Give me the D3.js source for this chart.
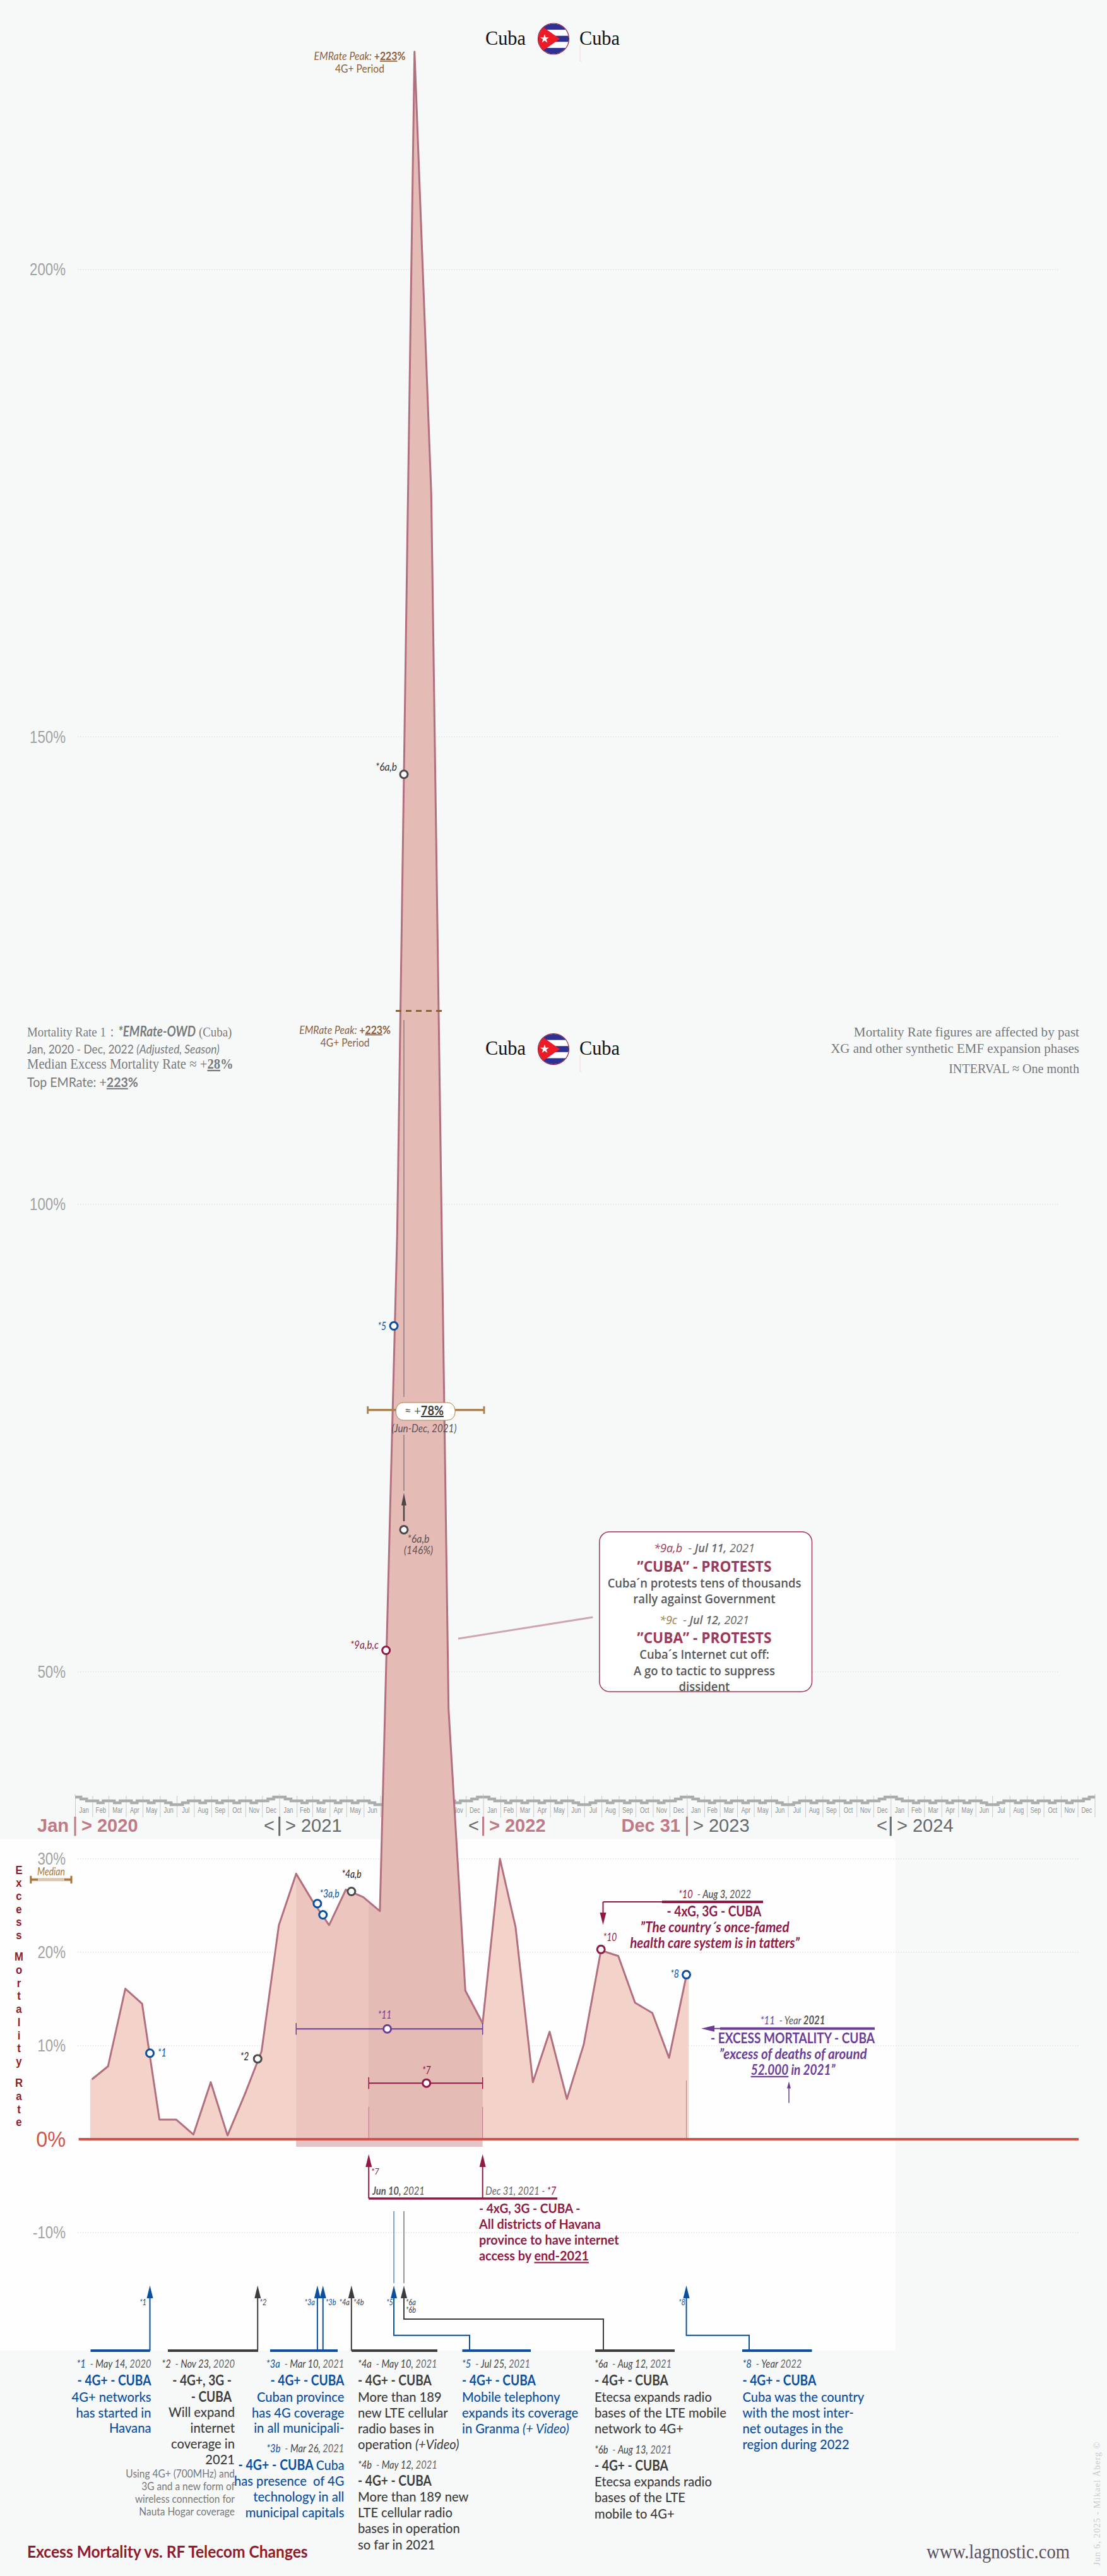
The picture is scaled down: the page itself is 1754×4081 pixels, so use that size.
<!DOCTYPE html>
<html>
<head>
<meta charset="utf-8">
<script src="https://cdn.jsdelivr.net/npm/d3@7"></script>
<style>
  html, body { margin: 0; padding: 0; background: #f7f9f9; }
  svg { display: block; }
  text { white-space: pre; }
</style>
</head>
<body>
<svg id="chart"></svg>
<script>
// excess mortality per month, Jan 2020 - Dec 2022
const monthEnds = ["2020-01-31","2020-02-29","2020-03-31","2020-04-30","2020-05-31","2020-06-30","2020-07-31","2020-08-31","2020-09-30","2020-10-31","2020-11-30","2020-12-31",
                   "2021-01-31","2021-02-28","2021-03-31","2021-04-30","2021-05-31","2021-06-30","2021-07-31","2021-08-31","2021-09-30","2021-10-31","2021-11-30","2021-12-31",
                   "2022-01-31","2022-02-28","2022-03-31","2022-04-30","2022-05-31","2022-06-30","2022-07-31","2022-08-31","2022-09-30","2022-10-31","2022-11-30","2022-12-31"];
const excess = [6.4, 7.8, 16.1, 14.5, 2.1, 2.1, 0.5, 6.1, 0.4, 4.8, 9.4, 22.9,
                28.4, 25.6, 22.9, 26.7, 25.9, 24.4, 97, 223.3, 176, 46, 15.9, 12.4,
                30.0, 22.7, 6.1, 11.5, 4.3, 10.1, 20.2, 19.6, 14.6, 13.5, 8.7, 17.5];

const yTicks = [-10, 0, 10, 20, 30, 50, 100, 150, 200];
const yearLabels = ["2020", "2021", "2022", "2023", "2024"];

// event markers on the curve
const markerDates = ["2020-05-14","2020-11-23","2021-03-10","2021-03-20","2021-05-10","2021-07-25","2021-08-12","2021-08-12","2021-07-11","2022-07-31","2022-12-31"];
const markerValues = [9.2, 8.6, 25.2, 24.0, 26.5, 87, 146, 65.2, 52.3, 20.3, 17.6];
const markerKinds = ["blue","dark","blue","blue","dark","blue","dark","dark","wine","wine","blue"];

// the stepped strip above the months, one year in thirds of a month
const waveSteps = [0,1,2,2,3,2,2,3,2,2,3,2,2,3,2,2,3,4,4,3,2,2,3,2,2,3,2,2,3,2,2,3,2,2,1,0];

const W = 1754, H = 4081;
const blue = "#0b4f9e", dark = "#3d3d3d", wine = "#8e1a45", purple = "#6a3d98", brown = "#8c5f3c", tan = "#ab8150", rose = "#bf7a85";
const kindColor = { blue: blue, dark: "#4a4a4a", wine: wine };
const sans = "'Liberation Sans', sans-serif", body = "Lato, sans-serif", serif = "'Liberation Serif', serif", open = "'Open Sans', sans-serif";

const parse = d3.utcParse("%Y-%m-%d");
const svg = d3.select("#chart").attr("width", W).attr("height", H).attr("viewBox", `0 0 ${W} ${H}`);

const x = d3.scaleUtc().domain([parse("2020-01-01"), parse("2025-01-01")]).range([119, 1735]);
const y = d3.scaleLinear().domain([0, 223.3]).range([3389, 82]);
const xd = s => x(parse(s));

svg.append("rect").attr("width", W).attr("height", H).attr("fill", "#f7f9f9");
svg.append("rect").attr("y", 2913.5).attr("width", 1418.6).attr("height", 810.5).attr("fill", "#fefefe");

// sx squeezes a line sideways, w fits it to a width measured on the reference
function label(px, py, parts, o = {}) {
    const t = svg.append("text").attr("x", px).attr("y", py).attr("dy", "0.35em")
        .attr("text-anchor", o.anchor || "start")
        .attr("font-family", o.font || body).attr("font-size", o.size || 20)
        .attr("font-weight", o.weight || 400).attr("font-style", o.italic ? "italic" : "normal")
        .attr("fill", o.fill || "#333");
    if (o.spacing) t.attr("letter-spacing", o.spacing);
    [].concat(parts).forEach(p => {
        const s = typeof p === "string" ? { text: p } : p;
        const span = t.append("tspan").text(s.text);
        if (s.fill) span.attr("fill", s.fill);
        if (s.weight) span.attr("font-weight", s.weight);
        if (s.italic !== undefined) span.attr("font-style", s.italic ? "italic" : "normal");
        if (s.font) span.attr("font-family", s.font);
        if (s.under) span.attr("text-decoration", "underline");
    });
    const sx = o.w ? o.w / t.node().getComputedTextLength() : (o.sx || 1);
    const rot = o.rotate ? `rotate(${o.rotate}) ` : "";
    if (sx !== 1 || o.rotate) t.attr("transform", `translate(${px},${py}) ${rot}scale(${sx},1) translate(${-px},${-py})`);
    return t;
}

// squeeze for a whole style, from one sample line of known width
function styled(sample, width, o) {
    const t = label(0, -100, sample, { ...o, sx: 1 });
    const sx = width / t.node().getComputedTextLength();
    t.remove();
    return { ...o, sx };
}

function stack(px, y0, lines, o, step = 25.1) {
    lines.forEach((l, i) => label(px, y0 + i * step, l, o));
}

function seg(pts, color, w, dash) {
    const p = svg.append("path").attr("d", d3.line()(pts)).attr("fill", "none").attr("stroke", color).attr("stroke-width", w);
    if (dash) p.attr("stroke-dasharray", dash);
    return p;
}

function head(tipX, tipY, baseX, baseY, hw, color) {
    const dx = baseX - tipX, dy = baseY - tipY, len = Math.hypot(dx, dy);
    const nx = -dy / len * hw, ny = dx / len * hw;
    svg.append("path").attr("fill", color)
        .attr("d", d3.line()([[tipX, tipY], [baseX + nx, baseY + ny], [baseX - nx, baseY - ny]]) + "Z");
}

// grid
yTicks.forEach(v => {
    if (v === 0) return;
    seg([[123, y(v)], [v >= 50 ? 1678 : 1709, y(v)]], "#dfe2e2", 1.5, "1.5 2.5");
});

// y axis labels
const yAxis = d3.axisLeft(y).tickValues(yTicks).tickSize(0).tickPadding(0).tickFormat(d => d + "%");
const yg = svg.append("g").attr("transform", "translate(104,0)").call(yAxis);
yg.select(".domain").remove();
yg.selectAll("text").attr("font-family", sans).attr("font-size", 27.5).attr("fill", "#a0a2a4").attr("font-weight", 400)
    .attr("transform", "scale(0.81,1)");
yg.selectAll(".tick").filter(d => d === 0).select("text")
    .attr("font-size", 36).attr("fill", "#d0564c").attr("transform", "scale(0.9,1)");

// month strip
const monthStarts = d3.utcMonth.range(parse("2020-01-01"), parse("2025-01-01"));
const monthAxis = d3.axisBottom(x).tickValues(monthStarts).tickSize(34).tickPadding(0).tickFormat(d3.utcFormat("%b"));
const mg = svg.append("g").attr("transform", "translate(0,2845)").call(monthAxis);
mg.select(".domain").remove();
mg.selectAll("line").attr("stroke", "#c6c9c9");
mg.selectAll("text").attr("font-family", sans).attr("font-size", 13.5).attr("fill", "#8f9193")
    .attr("y", 0).attr("dy", "0.35em")
    .attr("transform", d => `translate(${(x(d3.utcMonth.offset(d, 1)) - x(d)) / 2},22) scale(0.7,1)`);
seg([[x(parse("2025-01-01")), 2845], [x(parse("2025-01-01")), 2879]], "#c6c9c9", 1);

const waveLine = d3.line().curve(d3.curveStepAfter).x(d => x(d.t)).y(d => 2847 + d.s * 3);
yearLabels.forEach(yr => {
    const pts = [];
    d3.utcMonth.range(parse(`${yr}-01-01`), parse(`${+yr + 1}-01-01`)).forEach((m, mi) => {
        const next = d3.utcMonth.offset(m, 1);
        [0, 1, 2].forEach(j => pts.push({ t: new Date(+m + (next - m) * j / 3), s: waveSteps[mi * 3 + j] }));
    });
    pts.push({ t: parse(`${+yr + 1}-01-01`), s: 0 });
    svg.append("path").attr("d", waveLine(pts)).attr("fill", "none").attr("stroke", "#aaadad").attr("stroke-width", 4.5);
});
monthStarts.filter(d => d.getUTCMonth() === 0).concat([parse("2025-01-01")]).forEach(d =>
    seg([[x(d), 2842], [x(d), 2846]], "#c6c9c9", 1));

// year row
const yearBold = { font: sans, size: 29, weight: 700, fill: rose };
const yearThin = { font: sans, size: 29, fill: "#666a6c" };
function yearSep(d, color) { seg([[xd(d), 2878], [xd(d), 2908.5]], color, 3); }
yearSep("2020-01-01", rose);
label(109, 2892, "Jan", { ...yearBold, anchor: "end" });
label(129, 2892, "> 2020", yearBold);
yearSep("2021-01-01", "#666a6c");
label(418, 2892, "<", yearThin);
label(452, 2892, "> 2021", yearThin);
yearSep("2022-01-01", rose);
label(742, 2892, "<", yearThin);
label(775, 2892, "> 2022", yearBold);
yearSep("2023-01-01", rose);
label(1078, 2892, "Dec 31", { ...yearBold, anchor: "end" });
label(1098, 2892, "> 2023", yearThin);
yearSep("2024-01-01", "#666a6c");
label(1389, 2892, "<", yearThin);
label(1421, 2892, "> 2024", yearThin);

// curve
const series = monthEnds.map((d, i) => ({ t: parse(d), v: excess[i] }));
const areaSeries = [{ t: parse("2020-01-28"), v: excess[0] }, ...series, { t: parse("2023-01-04"), v: excess[35] }];
const area = d3.area().x(d => x(d.t)).y0(y(0)).y1(d => y(d.v));
const line = d3.line().x(d => x(d.t)).y(d => y(d.v));

svg.append("path").attr("d", area(areaSeries)).attr("fill", "#f3d2ca");

function band(id, from, to, color) {
    svg.append("clipPath").attr("id", id).append("rect")
        .attr("x", xd(from)).attr("width", xd(to) - xd(from)).attr("y", 0).attr("height", H);
    svg.append("path").attr("d", area(areaSeries)).attr("fill", color).attr("clip-path", `url(#${id})`);
}
band("band4g", "2021-01-31", "2021-12-31", "#ecc6be");
band("band7", "2021-06-10", "2021-12-31", "#e5bbb6");
svg.append("rect").attr("x", xd("2021-01-31")).attr("width", xd("2021-12-31") - xd("2021-01-31"))
    .attr("y", y(0)).attr("height", 12).attr("fill", "#e3c3c6");

seg([[xd("2021-06-10"), 3337.6], [xd("2021-06-10"), y(0)]], "#bb7086", 1);
seg([[xd("2021-12-31"), 3337.6], [xd("2021-12-31"), y(0)]], "#bb7086", 1);
seg([[xd("2022-12-31"), 3296], [xd("2022-12-31"), y(0)]], "#8b8fc0", 1);

svg.append("path").attr("d", line(series)).attr("fill", "none").attr("stroke", "#b2707f")
    .attr("stroke-width", 3).attr("stroke-linejoin", "round");

seg([[124.6, y(0)], [1709, y(0)]], "#cf5349", 4);

// dashed peak mark and the grey leader down the spike
seg([[627, y(120.7)], [702, y(120.7)]], brown, 3, "9 7");
seg([[xd("2021-08-12"), 1616], [xd("2021-08-12"), 2213]], "#8b8080", 1.5);
seg([[xd("2021-08-12"), 2273], [xd("2021-08-12"), 2362]], "#8b8080", 1.5);
seg([[xd("2021-08-12"), 2380], [xd("2021-08-12"), 2410]], "#4f4548", 2.5);
head(xd("2021-08-12"), 2365, xd("2021-08-12"), 2385, 4, "#4f4548");

// +78% median
seg([[582.7, y(78)], [767, y(78)]], tan, 3.5);
seg([[582.7, y(78) - 6], [582.7, y(78) + 6]], tan, 3);
seg([[767, y(78) - 6], [767, y(78) + 6]], tan, 3);
svg.append("rect").attr("x", 627.3).attr("y", 2222).attr("width", 93.7).attr("height", 28).attr("rx", 12)
    .attr("fill", "#fff").attr("stroke", tan).attr("stroke-width", 1);
label(672, 2235, ["≈ +", { text: "78%", under: true, weight: 700, fill: "#3a3a3a" }], { anchor: "middle", size: 20, fill: "#5a5a5a", w: 62 });
label(672, 2262.7, "(Jun-Dec, 2021)", { anchor: "middle", size: 17, italic: true, fill: "#5b5155", w: 103 });
label(663, 2438, "*6a,b", { anchor: "middle", size: 17, italic: true, fill: "#5b5155", w: 35 });
label(663, 2456, "(146%)", { anchor: "middle", size: 17, italic: true, fill: "#5b5155", w: 46 });

// year and period ranges
function range(from, to, val, color) {
    const yy = y(val);
    seg([[xd(from), yy], [xd(to), yy]], color, 2);
    seg([[xd(from), yy - 9.3], [xd(from), yy + 9.3]], color, 1.5);
    seg([[xd(to), yy - 9.3], [xd(to), yy + 9.3]], color, 1.5);
}
range("2021-01-31", "2021-12-31", 11.8, purple);
range("2021-06-10", "2021-12-31", 6.0, wine);

function dot(cx, cy, color) {
    svg.append("circle").attr("cx", cx).attr("cy", cy).attr("r", 6).attr("fill", "#fff")
        .attr("stroke", color).attr("stroke-width", 3);
}
svg.selectAll(".marker").data(markerDates).enter().append("circle").attr("class", "marker")
    .attr("cx", d => xd(d)).attr("cy", (d, i) => y(markerValues[i])).attr("r", 6)
    .attr("fill", "#fff").attr("stroke", (d, i) => kindColor[markerKinds[i]]).attr("stroke-width", 3);
dot(613.6, y(11.8), purple);
dot(675.7, y(6.0), wine);

const tiny = { size: 17, italic: true, sx: 0.82 };
label(250, 3251.8, "*1", { ...tiny, fill: blue });
label(387.5, 3257.6, "*2", { ...tiny, fill: "#222", anchor: "middle" });
label(522, 3000, "*3a,b", { ...tiny, fill: blue, anchor: "middle" });
label(557, 2968.6, "*4a,b", { ...tiny, fill: "#222", anchor: "middle" });
label(609.6, 3192.5, "*11", { ...tiny, fill: purple, anchor: "middle" });
label(675.7, 3279.6, "*7", { ...tiny, fill: wine, anchor: "middle" });
label(612, 2101, "*5", { ...tiny, fill: blue, anchor: "end" });
label(629, 1215, "*6a,b", { ...tiny, fill: "#333", anchor: "end", w: 34 });
label(600, 2605.7, "*9a,b,c", { ...tiny, fill: wine, anchor: "end", w: 45 });
label(966.5, 3069, "*10", { ...tiny, fill: wine, anchor: "middle" });
label(1069, 3127.4, "*8", { ...tiny, fill: blue, anchor: "middle" });

// median key on the lower axis
seg([[48.8, 2977.8], [113, 2977.8]], "#dcc4ae", 5);
seg([[48.8, 2977.8], [60, 2977.8]], "#a5743a", 3);
seg([[102, 2977.8], [113, 2977.8]], "#a5743a", 3);
seg([[48.8, 2971.8], [48.8, 2983.8]], "#a5743a", 3);
seg([[113, 2971.8], [113, 2983.8]], "#a5743a", 3);
label(81, 2965.3, "Median", { anchor: "middle", size: 17, italic: true, fill: "#a5743a", w: 44 });

// stacked axis title
const stackWords = ["Excess", "Mortality", "Rate"];
let stackY = 2962;
stackWords.forEach(w => {
    w.split("").forEach(ch => {
        label(30, stackY, ch, { anchor: "middle", font: sans, size: 19, weight: 700, fill: "#8f1c2b", sx: 0.88 });
        stackY += 20.7;
    });
    stackY += 13.5;
});

// heads: flag and country
function flag(cx, cy) {
    const g = svg.append("g").attr("transform", `translate(${cx},${cy})`);
    const id = "flag" + Math.round(cy);
    g.append("clipPath").attr("id", id).append("circle").attr("r", 24);
    const c = g.append("g").attr("clip-path", `url(#${id})`);
    c.append("rect").attr("x", -24).attr("y", -24).attr("width", 48).attr("height", 48).attr("fill", "#fff");
    [-24, -4.8, 14.4].forEach(s => c.append("rect").attr("x", -24).attr("y", s).attr("width", 48).attr("height", 9.6).attr("fill", "#2e3192"));
    c.append("path").attr("d", "M-24,-24L10,0L-24,24Z").attr("fill", "#ed1c24");
    c.append("path").attr("d", d3.symbol(d3.symbolStar, 60)()).attr("transform", "translate(-14,0)").attr("fill", "#fff");
    g.append("circle").attr("r", 24.5).attr("fill", "none").attr("stroke", "#8e1a45").attr("stroke-width", 1.2);
}
function countryHead(cy) {
    label(769, cy, "Cuba", { font: serif, size: 31, fill: "#111", w: 64 });
    label(918, cy, "Cuba", { font: serif, size: 31, fill: "#111", w: 64 });
    flag(877, cy + 1.5);
    seg([[919, cy + 11], [919, cy + 37], [921, cy + 37]], "#f4d7d5", 1);
}
countryHead(60);
countryHead(1660.5);

// peak notes
function peakNote(cx, y1, y2) {
    label(cx, y1, ["EMRate Peak: ", { text: "+", weight: 700, italic: false }, { text: "223", under: true, weight: 700, italic: false }, { text: "%", weight: 700, italic: false }],
        { anchor: "middle", size: 17, italic: true, fill: brown, w: 145 });
    label(cx, y2, "4G+ Period", { anchor: "middle", size: 17, fill: brown, w: 78 });
}
peakNote(570, 89, 108.7);
peakNote(546.6, 1631.6, 1652);

// top left block
const gr = "#77797b";
label(43, 1634.7, ["Mortality Rate 1：", { text: "*EMRate-OWD", weight: 700, italic: true, font: body }, { text: " (Cuba)" }], { font: serif, size: 22, fill: gr, w: 324 });
label(43, 1661.7, ["Jan, 2020 - Dec, 2022 ", { text: "(Adjusted, Season)", italic: true }], { size: 20, fill: gr, w: 305 });
label(43, 1684.7, ["Median Excess Mortality Rate ≈ +", { text: "28", under: true, weight: 700 }, { text: "%", weight: 700 }], { font: serif, size: 23, fill: gr, w: 327 });
label(43, 1714.3, ["Top EMRate: +", { text: "223", under: true, weight: 700 }, { text: "%", weight: 700 }], { size: 21, fill: gr, w: 176 });

// top right block
label(1710, 1634.4, "Mortality Rate figures are affected by past", { font: serif, size: 22, fill: "#75777a", anchor: "end", w: 357.5 });
label(1710, 1660, "XG and other synthetic EMF expansion phases", { font: serif, size: 22, fill: "#75777a", anchor: "end", w: 394 });
label(1710, 1692, "INTERVAL ≈ One month", { font: serif, size: 22, fill: "#75777a", anchor: "end", w: 207 });

// protests box
seg([[726, 2596], [939.4, 2562]], "#d0a6ae", 3);
svg.append("rect").attr("x", 949.8).attr("y", 2426.7).attr("width", 336.7).attr("height", 253.3).attr("rx", 16)
    .attr("fill", "#fff").attr("stroke", "#9c3a55").attr("stroke-width", 1.5);
const boxText = styled("Cuba´n protests tens of thousands", 307, { anchor: "middle", font: open, size: 19, weight: 600, fill: "#55575a" });
const boxHead = styled("”CUBA” - PROTESTS", 213, { anchor: "middle", font: open, size: 23, weight: 700, fill: "#9c3a55" });
const boxDate = { anchor: "middle", font: open, size: 18, italic: true, fill: "#666", w: 160 };
label(1116, 2453, [{ text: "*9a,b", fill: "#9c3a55" }, "  - ", { text: "Jul 11, ", weight: 600 }, "2021"], boxDate);
label(1116, 2481.8, "”CUBA” - PROTESTS", boxHead);
label(1116, 2508, "Cuba´n protests tens of thousands", boxText);
label(1116, 2533, "rally against Government", boxText);
label(1116, 2567, [{ text: "*9c", fill: "#a07a45" }, "  - ", { text: "Jul 12, ", weight: 600 }, "2021"], { ...boxDate, w: 142 });
label(1116, 2594.8, "”CUBA” - PROTESTS", boxHead);
label(1116, 2621, "Cuba´s Internet cut off:", boxText);
label(1116, 2647, "A go to tactic to suppress", boxText);
label(1116, 2672, "dissident", boxText);

// *10 note
seg([[955.5, 3013], [1049, 3013]], wine, 2);
seg([[1049, 3013], [1209, 3013]], wine, 4);
seg([[955.5, 3013], [955.5, 3035]], wine, 2);
head(955.5, 3049.5, 955.5, 3030, 5, wine);
label(1132.5, 3000.6, [{ text: "*10", fill: wine }, "  - ", { text: "Aug 3, ", weight: 600 }, "2022"], { anchor: "middle", size: 18, italic: true, fill: "#555", w: 115 });
label(1131.4, 3028.8, "- 4xG, 3G - CUBA", { anchor: "middle", size: 22, weight: 700, fill: wine, w: 150 });
label(1132.6, 3053.6, "”The country´s once-famed", { anchor: "middle", size: 22, italic: true, weight: 700, fill: wine, w: 236 });
label(1132.6, 3078.5, "health care system is in tatters”", { anchor: "middle", size: 22, italic: true, weight: 700, fill: wine, w: 269 });

// *11 note
seg([[1120, 3213.7], [1141, 3213.7]], purple, 2);
seg([[1141, 3213.7], [1386, 3213.7]], purple, 4);
head(1111, 3213.7, 1132, 3213.7, 5, purple);
label(1256, 3200.8, [{ text: "*11", fill: purple }, "  - Year ", { text: "2021", weight: 700 }], { anchor: "middle", size: 18, italic: true, fill: "#555", w: 102.6 });
label(1256, 3229, "- EXCESS MORTALITY - CUBA", { anchor: "middle", size: 22, weight: 700, fill: purple, w: 260 });
label(1256.6, 3254, "”excess of deaths of around", { anchor: "middle", size: 22, italic: true, weight: 700, fill: purple, w: 234 });
label(1256.6, 3279, [{ text: "52.000", under: true }, " in 2021”"], { anchor: "middle", size: 22, italic: true, weight: 700, fill: purple, w: 134 });
seg([[1250, 3305], [1250, 3331.4]], purple, 1.5);
head(1250, 3297.4, 1250, 3308.6, 3, purple);

// *7 note
seg([[xd("2021-06-10"), 3483], [883, 3483]], wine, 3.5);
seg([[xd("2021-06-10"), 3483], [xd("2021-06-10"), 3430]], wine, 2);
seg([[xd("2021-12-31"), 3483], [xd("2021-12-31"), 3430]], wine, 2);
head(xd("2021-06-10"), 3412.7, xd("2021-06-10"), 3433, 5, wine);
head(xd("2021-12-31"), 3412.7, xd("2021-12-31"), 3433, 5, wine);
label(588, 3440, "*7", { size: 13, italic: true, fill: wine });
label(590, 3470.7, [{ text: "Jun 10, ", weight: 700 }, "2021"], { size: 17, italic: true, fill: "#555", w: 83 });
label(769.3, 3470.7, ["Dec 31, 2021 - ", { text: "*7", fill: wine }], { size: 17, italic: true, fill: "#666", w: 112 });
label(759, 3499, "- 4xG, 3G - CUBA -", { size: 21, weight: 700, fill: wine, w: 160.5 });
const wineText = styled("All districts of Havana", 193, { size: 21, weight: 700, fill: wine });
stack(759, 3524, ["All districts of Havana", "province to have internet",
    ["access by ", { text: "end-2021", under: true }]], wineText, 25);

// the long leaders from the event arrows down to their notes
seg([[xd("2021-07-25"), 3503], [xd("2021-07-25"), 3617]], blue, 1);
seg([[xd("2021-08-12"), 3503], [xd("2021-08-12"), 3617]], "#999", 2);

const eventArrows = [
    { at: "2020-05-14", c: blue, to: [] },
    { at: "2020-11-23", c: dark, to: [] },
    { at: "2021-03-10", c: blue, to: [] },
    { at: "2021-03-20", c: blue, to: [] },
    { at: "2021-05-10", c: dark, to: [] },
    { at: "2021-07-25", c: blue, to: [3699.7, 744] },
    { at: "2021-08-12", c: dark, to: [3674, 956] },
    { at: "2022-12-31", c: blue, to: [3699.7, 1187] }
];
eventArrows.forEach(a => {
    const ax = xd(a.at);
    const pts = a.to.length ? [[ax, 3636], [ax, a.to[0]], [a.to[1], a.to[0]], [a.to[1], 3724]] : [[ax, 3636], [ax, 3724]];
    seg(pts, a.c, 2);
    head(ax, 3620.7, ax, 3641, 5, a.c);
});

// note bars
const noteBars = [[143.5, 237.7, blue], [266, 409, dark], [428, 535, blue], [557, 693, dark], [732.5, 841, blue], [943, 1069, dark], [1176, 1286.5, blue]];
noteBars.forEach(b => seg([[b[0], 3724], [b[1], 3724]], b[2], 4));

const small = { size: 13, italic: true, sx: 0.85 };
label(232, 3647.6, "*1", { ...small, fill: blue, anchor: "end" });
label(411.6, 3647.6, "*2", { ...small, fill: dark });
label(499, 3647.6, "*3a", { ...small, fill: blue, anchor: "end" });
label(516, 3647.6, "*3b", { ...small, fill: blue });
label(554, 3647.6, "*4a", { ...small, fill: dark, anchor: "end" });
label(560, 3647.6, "*4b", { ...small, fill: dark });
label(623, 3647.6, "*5", { ...small, fill: blue, anchor: "end" });
label(643, 3647.6, "*6a", { ...small, fill: dark });
label(643, 3659.8, "*6b", { ...small, fill: dark });
label(1086, 3647.6, "*8", { ...small, fill: blue, anchor: "end" });

// bottom notes
const noteDate = (tag, tagColor, day, year) => [{ text: tag, fill: tagColor }, "  - ", { text: day, fill: "#444" }, year];
const dateStyle = styled("*1  - May 14, 2020", 118, { size: 18, italic: true, fill: "#666" });
const hd = styled("- 4G+ - CUBA", 117, { size: 22, weight: 700 });
const tx = styled("bases of the LTE mobile", 209, { size: 22, weight: 500 });
const fine = styled("Using 4G+ (700MHz) and", 172.8, { size: 17.5, fill: "#777", anchor: "end" });

label(239.5, 3745, noteDate("*1", blue, "May 14, ", "2020"), { ...dateStyle, anchor: "end" });
label(239.5, 3771, "- 4G+ - CUBA", { ...hd, fill: blue, anchor: "end" });
stack(239.5, 3797, ["4G+ networks", "has started in", "Havana"], { ...tx, fill: blue, anchor: "end" }, 24.9);

label(372, 3745, noteDate("*2", dark, "Nov 23, ", "2020"), { ...dateStyle, anchor: "end" });
label(367, 3771, "- 4G+, 3G -", { ...hd, fill: dark, anchor: "end" });
label(367, 3797, "- CUBA", { ...hd, fill: dark, anchor: "end" });
stack(372, 3821.5, ["Will expand", "internet", "coverage in", "2021"], { ...tx, fill: dark, anchor: "end" }, 25);
stack(372, 3919, ["Using 4G+ (700MHz) and", "3G and a new form of", "wireless connection for", "Nauta Hogar coverage"], fine, 20);

label(545.4, 3745, noteDate("*3a", blue, "Mar 10, ", "2021"), { ...dateStyle, anchor: "end" });
label(545.4, 3771, "- 4G+ - CUBA", { ...hd, fill: blue, anchor: "end" });
stack(545.4, 3797, ["Cuban province", "has 4G coverage", "in all municipali-"], { ...tx, fill: blue, anchor: "end" }, 24.9);
label(545.4, 3878.7, noteDate("*3b", blue, "Mar 26, ", "2021"), { ...dateStyle, anchor: "end" });
label(545.4, 3905, [{ text: "- 4G+ - CUBA ", weight: 700 }, "Cuba"], { ...tx, fill: blue, anchor: "end", w: 168 });
stack(545.4, 3930, ["has presence  of 4G", "technology in all", "municipal capitals"], { ...tx, fill: blue, anchor: "end" }, 25.3);

label(567, 3745, noteDate("*4a", dark, "May 10, ", "2021"), dateStyle);
label(567, 3771, "- 4G+ - CUBA", { ...hd, fill: dark });
stack(567, 3797, ["More than 189", "new LTE cellular", "radio bases in", ["operation ", { text: "(+Video)", italic: true, weight: 400 }]], { ...tx, fill: dark }, 25);
label(567, 3904.8, noteDate("*4b", dark, "May 12, ", "2021"), dateStyle);
label(567, 3930, "- 4G+ - CUBA", { ...hd, fill: dark });
stack(567, 3955.6, ["More than 189 new", "LTE cellular radio", "bases in operation", "so far in 2021"], { ...tx, fill: dark }, 25.1);

label(732, 3745, noteDate("*5", blue, "Jul 25, ", "2021"), dateStyle);
label(732, 3771, "- 4G+ - CUBA", { ...hd, fill: blue });
stack(732, 3797, ["Mobile telephony", "expands its coverage", ["in Granma ", { text: "(+ Video)", italic: true, weight: 400 }]], { ...tx, fill: blue }, 25);

label(942, 3745, noteDate("*6a", dark, "Aug 12, ", "2021"), dateStyle);
label(942, 3771, "- 4G+ - CUBA", { ...hd, fill: dark });
stack(942, 3797, ["Etecsa expands radio", "bases of the LTE mobile", "network to 4G+"], { ...tx, fill: dark }, 25);
label(942, 3880.4, noteDate("*6b", dark, "Aug 13, ", "2021"), dateStyle);
label(942, 3906.5, "- 4G+ - CUBA", { ...hd, fill: dark });
stack(942, 3931.7, ["Etecsa expands radio", "bases of the LTE", "mobile to 4G+"], { ...tx, fill: dark }, 25.1);

label(1176.4, 3745, noteDate("*8", blue, "Year ", "2022"), dateStyle);
label(1176.4, 3771, "- 4G+ - CUBA", { ...hd, fill: blue });
stack(1176.4, 3797, ["Cuba was the country", "with the most inter-", "net outages in the", "region during 2022"], { ...tx, fill: blue }, 25);

// footer
label(43, 4043, "Excess Mortality vs. RF Telecom Changes", { size: 27, weight: 700, fill: "#8f1c2b", w: 445 });
label(1695, 4042, "www.lagnostic.com", { font: serif, size: 32, fill: "#5a5060", anchor: "end", w: 227 });
label(1738, 4064.6, "Jun 6, 2025 - Mikael Åberg ©", { font: serif, size: 15, fill: "#c9cbcc", spacing: 1, rotate: -90, w: 197 });
</script>
</body>
</html>
